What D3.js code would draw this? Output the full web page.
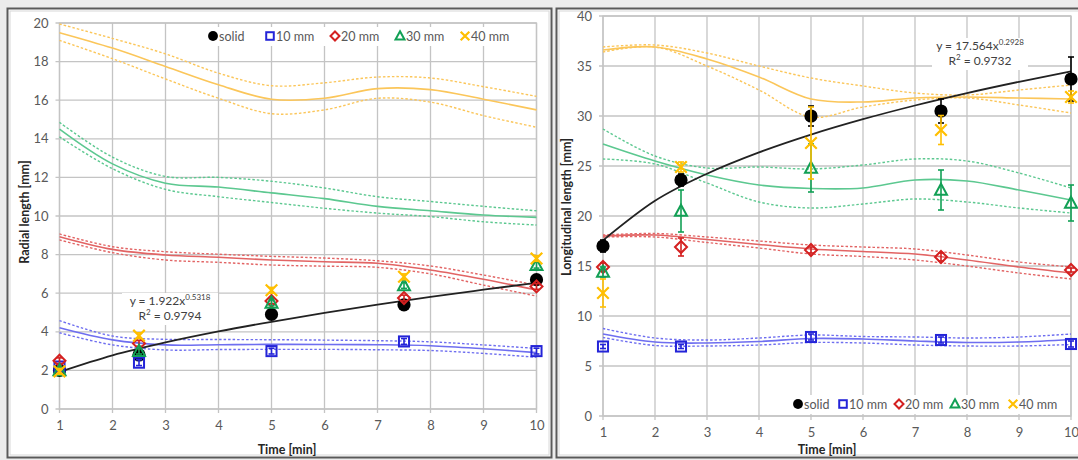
<!DOCTYPE html>
<html><head><meta charset="utf-8">
<script src="https://cdn.jsdelivr.net/npm/d3@7"></script>
<style>
body{margin:0;background:#ececec;}
svg{display:block;font-family:Lato,"Open Sans",sans-serif;}
</style></head><body>
<svg id="c" width="1078" height="460"></svg>
<script>
// ---------- data ----------
const timePoints = [1, 2.5, 5, 7.5, 10];
const fitTimes = [1, 2, 3, 4, 5, 6, 7, 8, 9, 10];
const seriesNames = ["solid", "10 mm", "20 mm", "30 mm", "40 mm"];
const xTicks = [1, 2, 3, 4, 5, 6, 7, 8, 9, 10];
const radialTicks = [0, 2, 4, 6, 8, 10, 12, 14, 16, 18, 20];
const longTicks = [0, 5, 10, 15, 20, 25, 30, 35, 40];

// Radial length (left)
const radialSolid = [2.0, 2.8, 4.9, 5.4, 6.7];
const radial10 = [2.2, 2.4, 3.0, 3.5, 3.0];
const radial20 = [2.5, 3.4, 5.6, 5.75, 6.35];
const radial30 = [2.0, 3.0, 5.5, 6.4, 7.45];
const radial40 = [1.95, 3.8, 6.15, 6.85, 7.8];
const radialErr = [0.15, 0.15, 0.15, 0.15, 0.15];

const radialFit10 = [4.21, 3.58, 3.32, 3.33, 3.35, 3.34, 3.33, 3.28, 3.12, 2.92];
const radialHi10  = [4.58, 3.78, 3.61, 3.60, 3.59, 3.57, 3.54, 3.48, 3.32, 3.14];
const radialLo10  = [3.95, 3.32, 3.06, 3.08, 3.09, 3.09, 3.07, 3.03, 2.88, 2.68];
const radialFit20 = [8.93, 8.27, 7.98, 7.86, 7.72, 7.63, 7.55, 7.20, 6.72, 6.17];
const radialHi20  = [9.07, 8.41, 8.15, 8.02, 7.91, 7.82, 7.68, 7.41, 6.94, 6.42];
const radialLo20  = [8.76, 8.10, 7.72, 7.60, 7.46, 7.40, 7.34, 7.00, 6.42, 5.85];
const radialFit30 = [14.5, 12.7, 11.7, 11.5, 11.2, 10.9, 10.5, 10.27, 10.05, 9.93];
const radialHi30  = [14.85, 13.05, 12.05, 12.0, 11.8, 11.45, 11.0, 10.75, 10.5, 10.27];
const radialLo30  = [14.1, 12.45, 11.38, 11.0, 10.7, 10.4, 10.15, 9.97, 9.7, 9.53];
const radialFit40 = [19.5, 18.7, 17.75, 16.8, 16.05, 16.1, 16.6, 16.55, 16.05, 15.5];
const radialHi40  = [19.95, 19.2, 18.4, 17.4, 16.75, 16.9, 17.2, 17.15, 16.7, 16.2];
const radialLo40  = [19.1, 18.15, 17.1, 16.1, 15.3, 15.5, 16.1, 15.9, 15.2, 14.6];
const radialPower = [1.92, 2.78, 3.45, 4.02, 4.52, 4.98, 5.41, 5.81, 6.18, 6.54];

// Longitudinal length (right)
const longSolid = [17.0, 23.6, 30.0, 30.5, 33.7];
const long10 = [6.95, 6.95, 7.9, 7.6, 7.2];
const long20 = [14.9, 16.9, 16.6, 15.9, 14.6];
const long30 = [14.4, 20.5, 24.8, 22.6, 21.3];
const long40 = [12.3, 24.9, 27.3, 28.6, 31.9];
const longErrSolid = [0.6, 0.6, 1.0, 1.2, 2.2];
const longErr10 = [0.2, 0.2, 0.3, 0.3, 0.3];
const longErr20 = [0.4, 0.9, 0.3, 0.4, 0.2];
const longErr30 = [0.5, 2.1, 2.4, 2.0, 1.8];
const longErr40 = [1.4, 0.5, 3.6, 1.45, 0.6];

const longFit10 = [8.2, 7.4, 7.3, 7.45, 7.75, 7.7, 7.5, 7.35, 7.4, 7.65];
const longHi10  = [8.75, 7.8, 7.6, 7.8, 8.1, 7.95, 7.9, 7.8, 7.9, 8.2];
const longLo10  = [7.85, 7.05, 7.0, 7.1, 7.35, 7.3, 7.1, 7.0, 7.0, 7.15];
const longFit20 = [18.0, 18.1, 17.65, 17.15, 16.7, 16.45, 16.2, 15.6, 14.9, 14.3];
const longHi20  = [18.1, 18.25, 17.9, 17.5, 17.1, 16.9, 16.7, 16.1, 15.4, 14.9];
const longLo20  = [17.9, 17.9, 17.35, 16.8, 16.2, 15.95, 15.6, 15.0, 14.3, 13.7];
const longFit30 = [27.2, 25.5, 24.1, 23.1, 22.75, 22.8, 23.6, 23.5, 22.6, 21.6];
const longHi30  = [28.7, 26.0, 24.8, 24.9, 24.7, 25.1, 25.7, 25.5, 24.3, 22.8];
const longLo30  = [25.7, 25.2, 23.3, 21.4, 20.8, 21.2, 21.7, 21.4, 20.8, 20.3];
const longFit40 = [36.6, 36.9, 35.7, 33.9, 31.7, 31.4, 31.8, 31.9, 31.8, 31.7];
const longHi40  = [36.9, 37.1, 36.3, 35.0, 33.8, 33.0, 32.3, 32.1, 32.6, 33.1];
const longLo40  = [36.4, 36.9, 35.0, 32.6, 29.9, 30.9, 31.6, 31.8, 31.1, 30.3];
const longPower = [17.56, 21.52, 24.23, 26.36, 28.14, 29.68, 31.05, 32.29, 33.42, 34.47];

// ---------- styling ----------
const markerTypes = ["circle", "square", "diamond", "triangle", "x"];
const markerColors = ["#000000", "#2424d8", "#d42020", "#12a055", "#ffbf00"];
const fitColors = [null, "#6e6ef0", "#e26464", "#5cc890", "#fbc65a"];
const textGray = "#595959";

const svg = d3.select("#c");

// panels
svg.append("rect").attr("x", 0).attr("y", 0).attr("width", 1078).attr("height", 460).attr("fill", "#ececec");
[[7.5, 8.5, 544, 449], [556.5, 8.5, 530, 449]].forEach(p => {
  svg.append("rect").attr("x", p[0]).attr("y", p[1]).attr("width", p[2]).attr("height", p[3])
    .attr("fill", "#ffffff").attr("stroke", "#5a5a5a").attr("stroke-width", 2);
  svg.append("rect").attr("x", p[0] + 2.5).attr("y", p[1] + 2.5).attr("width", p[2] - 5).attr("height", p[3] - 5)
    .attr("fill", "none").attr("stroke", "#d8d8d8").attr("stroke-width", 1);
});

function drawMarker(g, type, x, y, s, color) {
  if (type === "circle") {
    g.append("circle").attr("cx", x).attr("cy", y).attr("r", s * 0.55).attr("fill", color);
  } else if (type === "square") {
    const h = s * 0.42;
    g.append("rect").attr("x", x - h).attr("y", y - h).attr("width", 2 * h).attr("height", 2 * h)
      .attr("fill", "none").attr("stroke", color).attr("stroke-width", 2);
  } else if (type === "diamond") {
    const h = s * 0.5;
    g.append("path").attr("d", `M${x},${y - h}L${x + h},${y}L${x},${y + h}L${x - h},${y}Z`)
      .attr("fill", "none").attr("stroke", color).attr("stroke-width", 2);
  } else if (type === "triangle") {
    const h = s * 0.5;
    g.append("path").attr("d", `M${x},${y - h * 1.05}L${x + h},${y + h * 0.8}L${x - h},${y + h * 0.8}Z`)
      .attr("fill", "none").attr("stroke", color).attr("stroke-width", 2).attr("stroke-linejoin", "miter");
  } else {
    const h = s * 0.48;
    g.append("path").attr("d", `M${x - h},${y - h}L${x + h},${y + h}M${x - h},${y + h}L${x + h},${y - h}`)
      .attr("fill", "none").attr("stroke", color).attr("stroke-width", 2.2);
  }
}

function drawPanel(cfg) {
  const x = d3.scaleLinear().domain([1, 10]).range(cfg.xr);
  const y = d3.scaleLinear().domain([0, cfg.yMax]).range(cfg.yr);
  const g = svg.append("g");

  // grid
  g.append("g").selectAll("line").data(cfg.yTicks).join("line")
    .attr("x1", cfg.xr[0] - 4).attr("x2", cfg.xr[1]).attr("y1", d => y(d)).attr("y2", d => y(d))
    .attr("stroke", "#c4c4c4").attr("stroke-width", 1.3);
  g.append("g").selectAll("line").data(xTicks).join("line")
    .attr("x1", d => x(d)).attr("x2", d => x(d)).attr("y1", cfg.yr[1]).attr("y2", cfg.yr[0] + 4)
    .attr("stroke", "#c4c4c4").attr("stroke-width", 1.3);
  g.append("rect").attr("x", cfg.xr[0]).attr("y", cfg.yr[1]).attr("width", cfg.xr[1] - cfg.xr[0])
    .attr("height", cfg.yr[0] - cfg.yr[1]).attr("fill", "none").attr("stroke", "#c4c4c4").attr("stroke-width", 1.3);

  // axes (labels)
  const ax = g.append("g").attr("transform", `translate(0,${cfg.yr[0]})`)
    .call(d3.axisBottom(x).tickValues(xTicks).tickSize(0).tickPadding(12).tickFormat(d3.format("d")));
  const ay = g.append("g").attr("transform", `translate(${cfg.xr[0]},0)`)
    .call(d3.axisLeft(y).tickValues(cfg.yTicks).tickSize(0).tickPadding(11).tickFormat(d3.format("d")));
  [ax, ay].forEach(a => {
    a.select(".domain").remove();
    a.selectAll("text").attr("fill", textGray).attr("font-size", 13).attr("font-family", "Lato, sans-serif");
  });

  // fits
  const line = d3.line().x((d, i) => x(fitTimes[i])).y(d => y(d)).curve(d3.curveCatmullRom.alpha(0.5));
  cfg.fits.forEach(f => {
    const c = fitColors[f.s];
    g.append("path").attr("d", line(f.hi)).attr("fill", "none").attr("stroke", c).attr("stroke-width", 1.4).attr("stroke-dasharray", "2.5,2");
    g.append("path").attr("d", line(f.lo)).attr("fill", "none").attr("stroke", c).attr("stroke-width", 1.4).attr("stroke-dasharray", "2.5,2");
    g.append("path").attr("d", line(f.fit)).attr("fill", "none").attr("stroke", c).attr("stroke-width", 1.6);
  });

  // power trendline
  const pline = d3.line().x((d, i) => x(fitTimes[i])).y(d => y(d)).curve(d3.curveMonotoneX);
  g.append("path").attr("d", pline(cfg.power)).attr("fill", "none").attr("stroke", "#222").attr("stroke-width", 1.8);

  // equation
  const eq = g.append("g");
  eq.append("rect").attr("x", cfg.eq[0] - 48).attr("y", cfg.eq[1] - 12).attr("width", 96).attr("height", 32).attr("fill", "#fff");
  const t1 = eq.append("text").attr("x", cfg.eq[0]).attr("y", cfg.eq[1]).attr("text-anchor", "middle")
    .attr("font-size", 12).attr("fill", "#404040");
  t1.append("tspan").text(cfg.eqA);
  t1.append("tspan").attr("font-size", 8).attr("dy", -5).text(cfg.eqB);
  const t2 = eq.append("text").attr("x", cfg.eq[0]).attr("y", cfg.eq[1] + 15).attr("text-anchor", "middle")
    .attr("font-size", 12).attr("fill", "#404040");
  t2.append("tspan").text("R");
  t2.append("tspan").attr("font-size", 8).attr("dy", -5).text("2");
  t2.append("tspan").attr("dy", 5).text(" = " + cfg.r2);

  // markers + error bars
  cfg.points.forEach((vals, si) => {
    const c = markerColors[si];
    vals.forEach((v, i) => {
      const e = cfg.errs[si][i];
      const px = x(timePoints[i]);
      if (e > 0) {
        g.append("line").attr("x1", px).attr("x2", px).attr("y1", y(v - e)).attr("y2", y(v + e)).attr("stroke", c).attr("stroke-width", 1.6);
        [v - e, v + e].forEach(w => g.append("line").attr("x1", px - 3).attr("x2", px + 3).attr("y1", y(w)).attr("y2", y(w)).attr("stroke", c).attr("stroke-width", 1.6));
      }
      drawMarker(g, markerTypes[si], px, y(v), cfg.msize, c);
    });
  });

  // legend
  const lg = g.append("g");
  lg.append("rect").attr("x", cfg.legBox[0]).attr("y", cfg.legBox[1]).attr("width", cfg.legBox[2]).attr("height", cfg.legBox[3]).attr("fill", "#fff");
  seriesNames.forEach((n, i) => {
    const lx = cfg.legX[i];
    drawMarker(lg, markerTypes[i], lx, cfg.legY, 9, markerColors[i]);
    lg.append("text").attr("x", lx + 6).attr("y", cfg.legY + 4.5).attr("font-size", 12.5).attr("fill", textGray).text(n);
  });

  // axis titles
  g.append("text").attr("x", cfg.xTitle[0]).attr("y", cfg.xTitle[1]).attr("text-anchor", "middle")
    .attr("font-size", 12.5).attr("font-weight", "bold").attr("fill", "#262626").text("Time [min]");
  g.append("text").attr("transform", `translate(${cfg.yTitle[0]},${cfg.yTitle[1]}) rotate(-90)`).attr("text-anchor", "middle")
    .attr("font-size", 12.5).attr("font-weight", "bold").attr("fill", "#262626").text(cfg.yLabel);
}

drawPanel({
  xr: [59.5, 536.5], yr: [409, 23], yMax: 20, yTicks: radialTicks,
  fits: [
    {s: 4, fit: radialFit40, hi: radialHi40, lo: radialLo40},
    {s: 3, fit: radialFit30, hi: radialHi30, lo: radialLo30},
    {s: 2, fit: radialFit20, hi: radialHi20, lo: radialLo20},
    {s: 1, fit: radialFit10, hi: radialHi10, lo: radialLo10}
  ],
  power: radialPower,
  eq: [170, 305], eqA: "y = 1.922x", eqB: "0.5318", r2: "0.9794",
  points: [radialSolid, radial10, radial20, radial30, radial40],
  errs: [radialErr, radialErr, radialErr, radialErr, radialErr],
  msize: 12,
  legBox: [204, 27, 312, 19], legY: 36, legX: [213, 270, 335, 400, 465],
  xTitle: [287, 454], yTitle: [29, 212], yLabel: "Radial length [mm]"
});

drawPanel({
  xr: [603, 1071], yr: [416, 16], yMax: 40, yTicks: longTicks,
  fits: [
    {s: 4, fit: longFit40, hi: longHi40, lo: longLo40},
    {s: 3, fit: longFit30, hi: longHi30, lo: longLo30},
    {s: 2, fit: longFit20, hi: longHi20, lo: longLo20},
    {s: 1, fit: longFit10, hi: longHi10, lo: longLo10}
  ],
  power: longPower,
  eq: [980, 50], eqA: "y = 17.564x", eqB: "0.2928", r2: "0.9732",
  points: [longSolid, long10, long20, long30, long40],
  errs: [longErrSolid, longErr10, longErr20, longErr30, longErr40],
  msize: 12,
  legBox: [790, 395, 274, 19], legY: 404, legX: [798, 843, 899, 955, 1013],
  xTitle: [827, 454], yTitle: [571, 207], yLabel: "Longitudinal length [mm]"
});
</script>
</body></html>
